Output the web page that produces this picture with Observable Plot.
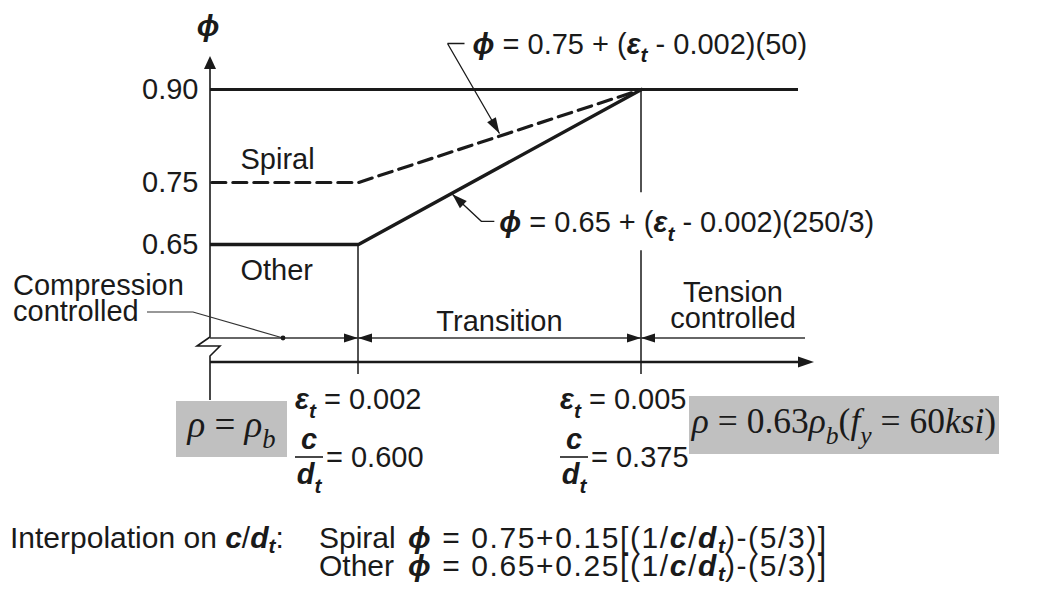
<!DOCTYPE html>
<html>
<head>
<meta charset="utf-8">
<script src="https://cdn.jsdelivr.net/npm/d3@7"></script>
<script src="https://cdn.jsdelivr.net/npm/@observablehq/plot@0.6"></script>
<style>
  body { margin: 0; background: #fff; }
  #figure { width: 1059px; height: 595px; overflow: hidden; background: #fff; }
  #caption {
    font-family: 'Liberation Sans', Arial, Helvetica, sans-serif;
    font-size: 30px; line-height: 28px; color: #1a1a1a;
    display: grid; grid-template-columns: 309px 89px auto;
    padding: 24px 0 0 10px; white-space: nowrap;
  }
  #caption .eq { letter-spacing: 1.6px; }
  #caption sub { font-size: 0.7em; vertical-align: -0.25em; line-height: 0; letter-spacing: 0; }
</style>
</head>
<body>
<div id="figure"></div>
<script>
const SANS = "'Liberation Sans', Arial, Helvetica, sans-serif";
const SERIF = "'Liberation Serif', 'Times New Roman', serif";
const INK = "#1a1a1a";

// Net tensile strain ε_t at the curve break points (the compression zone is drawn broken, not to scale)
const strainBreaks = [0, 0.002, 0.005];
// Strength reduction factor φ at those strains
const spiralPhi = [0.75, 0.75, 0.90];
const otherPhi = [0.65, 0.65, 0.90];
const capPhi = 0.90;
const phiTicks = [0.65, 0.75, 0.90];
const curveNames = ["Spiral", "Other"];

// Zone limits: strain and matching neutral-axis depth ratio c/d_t
const limitStrains = [0.002, 0.005];
const limitDepthRatios = [0.600, 0.375];

// Transition-zone equations
const spiralSlopeText = "50";
const otherSlopeText = "250/3";
const spiralSlope = 50;
const otherSlope = 250 / 3;
const spiralCoef = 0.15;
const otherCoef = 0.25;

// Reinforcement ratios that correspond to the zone limits
const ratioLabels = [
  [["ρ", "i"], [" = "], ["ρ", "i"], ["b", "i_"]],
  [["ρ", "i"], [" = "], ["0.63"], ["ρ", "i"], ["b", "i_"], ["("], ["f", "i"], ["y", "i_"], [" = "], ["60"], ["ksi", "i"], [")"]]
];

const rows = (phis) => phis.map((phi, i) => ({strain: strainBreaks[i], phi}));
const fmt3 = d3.format(".3f");

// Multi-style text: parts are [string, style] where style may hold b (bold), i (italic), _ (subscript)
function rich(g, px, py, parts, {size = 29, family = SANS, anchor = "start"} = {}) {
  const t = g.append("text")
    .attr("x", px).attr("y", py)
    .attr("font-size", size).attr("font-family", family)
    .attr("text-anchor", anchor)
    .attr("fill", INK).attr("stroke", "none");
  let shift = 0;
  for (const [str, style = ""] of parts) {
    const s = t.append("tspan").text(str);
    if (style.includes("b")) s.attr("font-weight", "bold");
    if (style.includes("i")) s.attr("font-style", "italic");
    const sub = style.includes("_");
    const want = sub ? size * 0.3 : 0;
    if (want !== shift) { s.attr("dy", want - shift); shift = want; }
    if (sub) s.attr("font-size", size * 0.72);
  }
  return t;
}

// Filled arrowhead with its tip at (x2, y2), pointing away from (x1, y1)
function head(g, x1, y1, x2, y2, len = 14, half = 4.5) {
  const a = Math.atan2(y2 - y1, x2 - x1);
  const bx = x2 - len * Math.cos(a), by = y2 - len * Math.sin(a);
  const nx = -Math.sin(a) * half, ny = Math.cos(a) * half;
  g.append("path")
    .attr("d", `M${x2},${y2}L${bx + nx},${by + ny}L${bx - nx},${by - ny}Z`)
    .attr("fill", INK).attr("stroke", "none");
}

const phiEq = (base, slope) => [["ϕ", "bi"], [` = ${base} + (`], ["ε", "bi"], ["t", "bi_"], [` - 0.002)(${slope})`]];

// Axes, zone dimensions, leaders and limit labels
function annotations(index, scales, values, dims) {
  const {x, y} = scales;
  const left = dims.marginLeft;
  const right = dims.width - dims.marginRight;
  const bottom = dims.height - dims.marginBottom;
  const g = d3.create("svg:g").attr("fill", "none").attr("stroke", INK);

  // φ axis with its break symbol
  g.append("path").attr("stroke-width", 1.6)
    .attr("d", `M${left},64V${bottom - 25}L${left - 13},${bottom - 16}H${left + 10}L${left},${bottom - 6}V${bottom + 38}`);
  head(g, left, 80, left, 56, 13, 6);
  rich(g, left - 2, 36, [["ϕ", "bi"]], {size: 30, anchor: "middle"});

  // strain axis
  g.append("line").attr("stroke-width", 2.6)
    .attr("x1", left).attr("x2", right + 6).attr("y1", bottom).attr("y2", bottom);
  head(g, left, bottom, right + 16, bottom, 16, 5.5);

  // zone limit lines, the right one opened around the lower equation
  const [x1, x2] = limitStrains.map(x);
  const eqBase = y(otherPhi[1] + 0.001 * otherSlope) + 40;
  g.append("path").attr("stroke-width", 1.5)
    .attr("d", `M${x1},${y(otherPhi[1])}V${bottom + 12}M${x2},${y(capPhi)}V${eqBase - 40}M${x2},${eqBase + 18}V${bottom + 12}`);

  // zone dimension line
  const dimY = bottom - 24;
  const dimEnd = right + 7;
  g.append("path").attr("stroke-width", 1.3).attr("stroke", "#333")
    .attr("d", `M${left},${dimY}H${dimEnd}`);
  head(g, left, dimY, x1, dimY);
  head(g, x2, dimY, x1, dimY);
  head(g, x1, dimY, x2, dimY);
  head(g, dimEnd, dimY, x2, dimY);

  // zone names
  rich(g, left - 197, dimY - 43, [["Compression"]]);
  rich(g, left - 197, dimY - 17, [["controlled"]]);
  rich(g, (x1 + x2) / 2, dimY - 7, [["Transition"]], {anchor: "middle"});
  rich(g, x2 + 92, dimY - 36, [["Tension"]], {anchor: "middle"});
  rich(g, x2 + 92, dimY - 10, [["controlled"]], {anchor: "middle"});
  const dotX = left + 73;
  g.append("path").attr("stroke-width", 1.2).attr("stroke", "#333")
    .attr("d", `M${left - 63},${dimY - 26}H${left - 17}L${dotX},${dimY}`);
  g.append("circle").attr("cx", dotX).attr("cy", dimY).attr("r", 2.4).attr("fill", INK).attr("stroke", "none");

  // leaders to the transition equations, tips placed on the curves they describe
  const sS = 0.0035;
  const sTip = [x(sS), y(spiralPhi[1] + (sS - 0.002) * spiralSlope) - 2];
  g.append("path").attr("stroke-width", 1.3)
    .attr("d", `M${sTip[0] - 52},${sTip[1] - 90}H${sTip[0] - 35}M${sTip[0] - 52},${sTip[1] - 90}L${sTip[0]},${sTip[1]}`);
  head(g, sTip[0] - 52, sTip[1] - 90, sTip[0], sTip[1], 16, 5);
  rich(g, sTip[0] - 27, sTip[1] - 80, phiEq(spiralPhi[1], spiralSlopeText));

  const oS = 0.003;
  const oTip = [x(oS), y(otherPhi[1] + (oS - 0.002) * otherSlope) + 2];
  g.append("path").attr("stroke-width", 1.3)
    .attr("d", `M${oTip[0]},${oTip[1]}L${oTip[0] + 29},${oTip[1] + 27}H${oTip[0] + 42}`);
  head(g, oTip[0] + 29, oTip[1] + 27, oTip[0], oTip[1], 15, 5);
  rich(g, oTip[0] + 47, eqBase, phiEq(otherPhi[1], otherSlopeText));

  // reinforcement ratio boxes, drawn beneath the limit labels
  const boxes = [
    {x0: x1 - 182, x1: x1 - 71, y0: bottom + 39, y1: bottom + 95, base: bottom + 75},
    {x0: x2 + 48, x1: x2 + 358, y0: bottom + 34, y1: bottom + 92, base: bottom + 71}
  ];
  boxes.forEach((b, i) => {
    g.append("rect").attr("x", b.x0).attr("y", b.y0).attr("width", b.x1 - b.x0).attr("height", b.y1 - b.y0)
      .attr("fill", "#c0c0c0").attr("stroke", "none");
    rich(g, (b.x0 + b.x1) / 2, b.base, ratioLabels[i], {size: i ? 35.5 : 37, family: SERIF, anchor: "middle"});
  });

  // limit strain and depth-ratio labels
  const labelLeft = [x1 - 63, x2 - 81];
  limitStrains.forEach((s, i) => {
    const L = labelLeft[i];
    rich(g, L, bottom + 47, [["ε", "bi"], ["t", "bi_"], [` = ${fmt3(s)}`]]);
    rich(g, L + 14, bottom + 87, [["c", "bi"]], {anchor: "middle"});
    g.append("line").attr("stroke-width", 1.6).attr("x1", L).attr("x2", L + 28).attr("y1", bottom + 95).attr("y2", bottom + 95);
    rich(g, L + 14, bottom + 122, [["d", "bi"], ["t", "bi_"]], {anchor: "middle"});
    rich(g, L + 31, bottom + 105, [[`= ${fmt3(limitDepthRatios[i])}`]]);
  });

  return g.node();
}

const plot = Plot.plot({
  width: 1059,
  height: 500,
  marginLeft: 210,
  marginRight: 261,
  marginTop: 0,
  marginBottom: 138,
  x: {domain: limitStrains, range: [358, 641], axis: null},
  y: {domain: [0.65, 0.90], range: [244, 89], axis: null},
  style: {fontFamily: SANS, fontSize: "29px", color: INK, background: "#fff", overflow: "visible"},
  marks: [
    Plot.axisY({ticks: phiTicks, tickFormat: ".2f", tickSize: 0, tickPadding: 12, label: null, fill: INK}),
    Plot.ruleY([capPhi], {stroke: INK, strokeWidth: 3}),
    Plot.line(rows(spiralPhi), {x: "strain", y: "phi", stroke: INK, strokeWidth: 3.2, strokeDasharray: "14,7", clip: true}),
    Plot.line(rows(otherPhi), {x: "strain", y: "phi", stroke: INK, strokeWidth: 3.4, clip: true}),
    Plot.text([curveNames[0]], {y: [spiralPhi[0]], frameAnchor: "left", dx: 30, dy: -23, textAnchor: "start", fill: INK}),
    Plot.text([curveNames[1]], {y: [otherPhi[0]], frameAnchor: "left", dx: 30, dy: 26, textAnchor: "start", fill: INK}),
    annotations
  ]
});

const fig = document.getElementById("figure");
fig.append(plot);

// Interpolation on c/d_t, written from the same coefficients
const cd = `<b><i>c</i></b>/<b><i>d<sub>t</sub></i></b>`;
const eqCd = (base, coef) => `<b><i>ϕ</i></b> = ${base.toFixed(2)}+${coef.toFixed(2)}[(1/${cd})-(5/3)]`;
const cap = document.createElement("div");
cap.id = "caption";
cap.innerHTML =
  `<span>Interpolation on ${cd}:</span><span>${curveNames[0]}</span><span class="eq">${eqCd(spiralPhi[0], spiralCoef)}</span>` +
  `<span></span><span>${curveNames[1]}</span><span class="eq">${eqCd(otherPhi[0], otherCoef)}</span>`;
fig.append(cap);
</script>
</body>
</html>
